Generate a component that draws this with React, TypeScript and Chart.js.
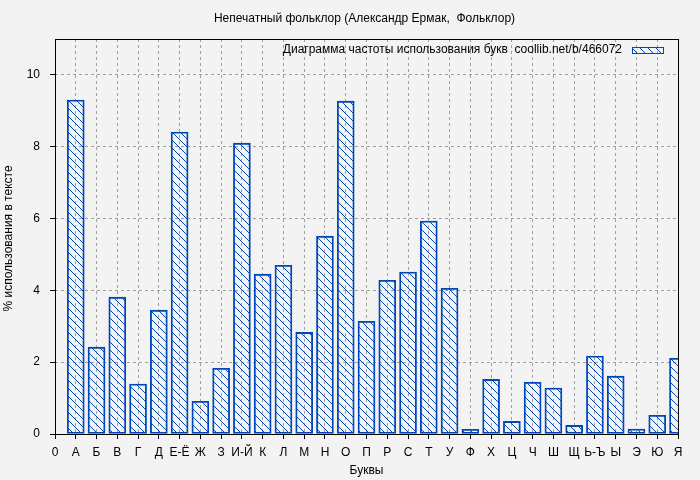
import React, { useEffect, useRef } from 'react';
import { Chart, registerables } from 'chart.js';

Chart.register(...registerables);

const TITLE = 'Непечатный фольклор (Александр Ермак,  Фольклор)';
const LEGEND_LABEL = 'Диаграмма частоты использования букв  coollib.net/b/466072';
const X_TITLE = 'Буквы';
const Y_TITLE = '% использования в тексте';

const letters = ['0', 'А', 'Б', 'В', 'Г', 'Д', 'Е-Ё', 'Ж', 'З', 'И-Й', 'К', 'Л', 'М', 'Н', 'О', 'П', 'Р', 'С', 'Т', 'У', 'Ф', 'Х', 'Ц', 'Ч', 'Ш', 'Щ', 'Ь-Ъ', 'Ы', 'Э', 'Ю', 'Я'];
const usage = [null, 9.30, 2.42, 3.81, 1.39, 3.45, 8.41, 0.91, 1.83, 8.10, 4.45, 4.70, 2.83, 5.51, 9.27, 3.14, 4.28, 4.51, 5.93, 4.06, 0.13, 1.52, 0.35, 1.44, 1.28, 0.24, 2.17, 1.61, 0.14, 0.52, 2.11];
const yTicks = [0, 2, 4, 6, 8, 10];
const Y_MAX = 11;

const BG = '#f3f3f3';
const BLUE = '#0047b8';
const GRID = '#a0a0a0';
const FONT = '"Liberation Sans", Arial, sans-serif';

function makeHatch(): CanvasPattern | string {
  const c = document.createElement('canvas');
  c.width = 8;
  c.height = 8;
  const g = c.getContext('2d');
  if (!g) return BLUE;
  g.strokeStyle = BLUE;
  g.lineWidth = 1;
  g.beginPath();
  g.moveTo(0, 0); g.lineTo(8, 8);
  g.moveTo(-1, 7); g.lineTo(1, 9);
  g.moveTo(7, -1); g.lineTo(9, 1);
  g.stroke();
  return g.createPattern(c, 'repeat') || BLUE;
}

export default function App() {
  const ref = useRef<HTMLCanvasElement | null>(null);

  useEffect(() => {
    document.body.style.margin = '0';
    document.body.style.background = BG;
    const canvas = ref.current;
    if (!canvas) return;
    const hatch = makeHatch();

    const decor = {
      id: 'decor',
      beforeDraw(chart: any) {
        const ctx = chart.ctx;
        ctx.save();
        ctx.fillStyle = BG;
        ctx.fillRect(0, 0, chart.width, chart.height);
        ctx.restore();
      },
      afterDraw(chart: any) {
        const { ctx, chartArea: a } = chart;
        ctx.save();
        ctx.strokeStyle = '#000';
        ctx.lineWidth = 1;
        ctx.strokeRect(a.left + 0.5, a.top + 0.5, a.right - a.left, a.bottom - a.top);

        ctx.fillStyle = '#000';
        ctx.font = '12px ' + FONT;
        ctx.textAlign = 'center';
        ctx.textBaseline = 'middle';
        const cx = (a.left + a.right) / 2;
        ctx.fillText(TITLE, cx - 2, 19);
        ctx.fillText(X_TITLE, cx, 471);

        // legend
        ctx.textAlign = 'right';
        ctx.fillText(LEGEND_LABEL, a.right - 56, 50);
        ctx.fillStyle = hatch as any;
        ctx.fillRect(a.right - 46, 47, 32, 6);
        ctx.strokeStyle = BLUE;
        ctx.lineWidth = 1;
        ctx.strokeRect(a.right - 46 + 0.5, 47.5, 31, 6);

        ctx.fillStyle = '#000';
        ctx.translate(9, (a.top + a.bottom) / 2 + 2);
        ctx.rotate(-Math.PI / 2);
        ctx.textAlign = 'center';
        ctx.fillText(Y_TITLE, 0, 0);
        ctx.restore();
      },
    };

    const chart = new Chart(canvas, {
      type: 'bar',
      data: {
        labels: letters,
        datasets: [
          {
            label: LEGEND_LABEL,
            data: usage as any,
            backgroundColor: hatch as any,
            borderColor: BLUE,
            borderWidth: 1.2,
            borderSkipped: false,
            barThickness: 17,
          },
        ],
      },
      options: {
        responsive: false,
        animation: false,
        events: [],
        layout: { padding: { left: 0, top: 39, right: 22, bottom: 0 } },
        plugins: {
          legend: { display: false },
          title: { display: false },
          tooltip: { enabled: false },
        },
        scales: {
          x: {
            type: 'category',
            offset: false,
            grid: {
              offset: false,
              color: GRID,
              lineWidth: 1,
              drawTicks: true,
              tickLength: 5,
              tickColor: '#000',
              tickWidth: 1,
              tickBorderDash: [],
            },
            border: { display: false, dash: [3, 3] },
            ticks: {
              autoSkip: false,
              maxRotation: 0,
              color: '#000',
              font: { family: FONT, size: 12 },
              padding: 6,
            },
            afterFit(scale: any) {
              scale.height = 46;
            },
          },
          y: {
            type: 'linear',
            min: 0,
            max: Y_MAX,
            grid: {
              color: GRID,
              lineWidth: 1,
              drawTicks: true,
              tickLength: 5,
              tickColor: '#000',
              tickWidth: 1,
              tickBorderDash: [],
            },
            border: { display: false, dash: [3, 3] },
            ticks: {
              color: '#000',
              font: { family: FONT, size: 12 },
              padding: 10,
            },
            afterBuildTicks(scale: any) {
              scale.ticks = yTicks.map((v) => ({ value: v }));
            },
            afterFit(scale: any) {
              scale.width = 55;
            },
          },
        },
      },
      plugins: [decor],
    });

    return () => chart.destroy();
  }, []);

  return <canvas ref={ref} width={700} height={480} style={{ display: 'block' }} />;
}
